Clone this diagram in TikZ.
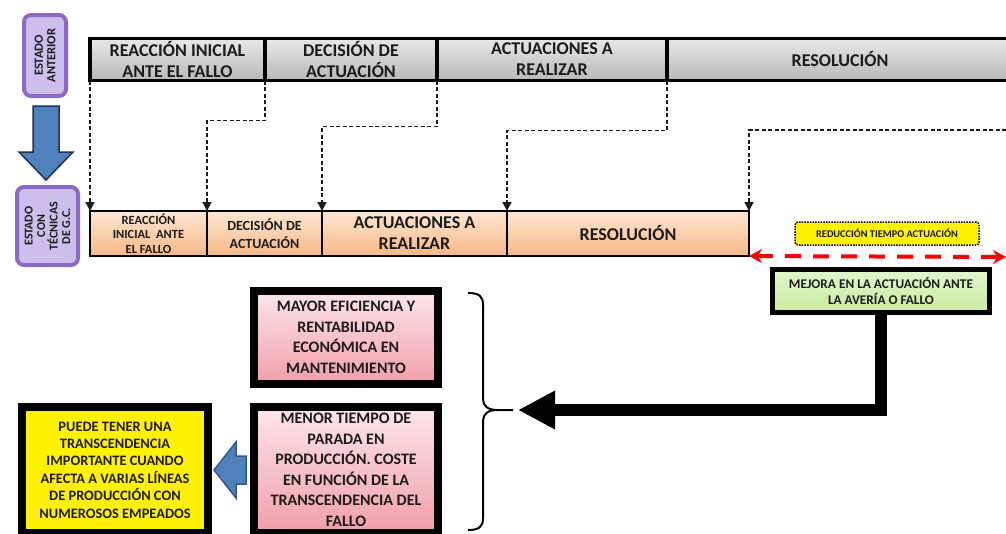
\documentclass[tikz,border=0pt]{standalone}
\usepackage{fontspec}
\setmainfont{Carlito}
\usetikzlibrary{arrows.meta,positioning}
\definecolor{ink}{RGB}{28,28,28}
\definecolor{barHi}{RGB}{232,232,232}
\definecolor{barLo}{RGB}{184,184,184}
\definecolor{peachHi}{RGB}{253,230,210}
\definecolor{peachLo}{RGB}{247,184,134}
\definecolor{pinkHi}{RGB}{252,230,234}
\definecolor{pinkLo}{RGB}{241,158,170}
\definecolor{gainHi}{RGB}{228,245,204}
\definecolor{gainLo}{RGB}{200,234,160}
\definecolor{stateFill}{RGB}{205,190,235}
\definecolor{stateLine}{RGB}{140,105,196}
\definecolor{arrowBlue}{RGB}{79,129,189}
\definecolor{arrowEdge}{RGB}{30,50,80}

\begin{document}
\begin{tikzpicture}[x=1pt,y=-1pt,
  topcell/.style={draw=black, line width=3.5pt, outer sep=0pt, inner sep=0pt,
    top color=barHi, bottom color=barLo, minimum height=42pt, align=center,
    text=ink, font=\bfseries\fontsize{18}{21}\selectfont},
  botcell/.style={draw=black, line width=2.5pt, outer sep=0pt, inner sep=0pt,
    top color=peachHi, bottom color=peachLo, minimum height=45pt, align=center,
    text=ink},
  state/.style={draw=stateLine, line width=4pt, fill=stateFill, rounded corners=7pt,
    rotate=90, inner sep=0pt, align=center, text=ink,
    font=\bfseries\fontsize{12.5}{12.5}\selectfont},
  panel/.style={draw=black, line width=8pt, inner sep=0pt, align=center, text=ink,
    font=\bfseries\fontsize{16}{20.5}\selectfont},
  link/.style={draw=ink, line width=1.6pt, dash pattern=on 4pt off 2.5pt,
    -{Triangle[length=9pt,width=9pt]}},
  blockarrow/.style={fill=arrowBlue, draw=arrowEdge, line width=1.5pt, line join=miter}]
  \useasboundingbox (0,0) rectangle (1006,533);

  %states on the left
  \node[state, minimum width=81pt, minimum height=42pt] (pre) at (45,55.5) {ESTADO\\ANTERIOR};
  \node[state, minimum width=78pt, minimum height=61pt, font=\bfseries\fontsize{12}{12.5}\selectfont]
    (post) at (47.5,226) {ESTADO\\CON\\TÉCNICAS\\DE G.C.};
  \filldraw[blockarrow] (33,106) -- (59,106) -- (59,152) -- (73,152) -- (46,180)
    -- (19,152) -- (33,152) -- cycle;

  %phases before
  \node[topcell, minimum width=175pt, anchor=north west] (top1) at (90,38.5) {REACCIÓN INICIAL\\ANTE EL FALLO};
  \node[topcell, minimum width=172pt, right=0pt of top1] (top2) {DECISIÓN DE\\ACTUACIÓN};
  \node[topcell, minimum width=230pt, right=0pt of top2] (top3) {ACTUACIONES A\\REALIZAR};
  \node[topcell, minimum width=346pt, right=0pt of top3] (top4) {RESOLUCIÓN};

  %phases after
  \node[botcell, minimum width=117pt, anchor=north west, font=\bfseries\fontsize{12.5}{14.5}\selectfont]
    (bot1) at (90,211) {REACCIÓN\\INICIAL\ \ ANTE\\EL FALLO};
  \node[botcell, minimum width=115pt, right=0pt of bot1, font=\bfseries\fontsize{14}{18}\selectfont]
    (bot2) {DECISIÓN DE\\ACTUACIÓN};
  \node[botcell, minimum width=185pt, right=0pt of bot2, font=\bfseries\fontsize{18}{21}\selectfont]
    (bot3) {ACTUACIONES A\\REALIZAR};
  \node[botcell, minimum width=242pt, right=0pt of bot3, font=\bfseries\fontsize{18}{21}\selectfont]
    (bot4) {RESOLUCIÓN};

  %dashed links
  \draw[link] (top1.south west) -- (bot1.north west);
  \draw[link] (top1.south east) -- ++(0,40) -| (bot2.north west);
  \draw[link] (top2.south east) -- ++(0,46) -| (bot3.north west);
  \draw[link] (top3.south east) -- ++(0,50) -| (bot4.north west);
  \coordinate (edge) at (1006,130);
  \draw[link] (edge) -| (bot4.north east);

  %time saved
  \node[draw=black, line width=1.5pt, dash pattern=on 1.5pt off 1.2pt, fill=yellow,
    rounded corners=3pt, minimum width=184pt, minimum height=23pt, inner sep=0pt,
    text=ink, font=\bfseries\fontsize{10.3}{12}\selectfont] (cut) at (887,233.5)
    {REDUCCIÓN TIEMPO ACTUACIÓN};
  \coordinate (gapEnd) at (1006,257);
  \draw[red, line width=4pt, dash pattern=on 16pt off 12pt,
    {Stealth[length=13pt,width=14pt]}-{Stealth[length=13pt,width=14pt]}] (bot4.south east) -- (gapEnd);

  \node[draw=black, line width=5pt, top color=gainHi, bottom color=gainLo,
    minimum width=217pt, minimum height=43pt, inner sep=0pt, align=center, text=ink,
    font=\bfseries\fontsize{13.3}{16.5}\selectfont] (gain) at (881,291)
    {MEJORA EN LA ACTUACIÓN ANTE\\LA AVERÍA O FALLO};

  %consequences
  \node[panel, top color=pinkHi, bottom color=pinkLo, minimum width=184pt, minimum height=93pt]
    (eff) at (346,337.5) {MAYOR EFICIENCIA Y\\RENTABILIDAD\\ECONÓMICA EN\\MANTENIMIENTO};
  \node[panel, top color=pinkHi, bottom color=pinkLo, minimum width=184pt, minimum height=126pt]
    (stop) at (346,470) {MENOR TIEMPO DE\\PARADA EN\\PRODUCCIÓN. COSTE\\EN FUNCIÓN DE LA\\TRANSCENDENCIA DEL\\FALLO};
  \node[panel, fill=yellow, minimum width=186pt, minimum height=126pt,
    font=\bfseries\fontsize{14.4}{17.4}\selectfont] (res) at (115,470)
    {PUEDE TENER UNA\\TRANSCENDENCIA\\IMPORTANTE CUANDO\\AFECTA A VARIAS LÍNEAS\\DE PRODUCCIÓN CON\\NUMEROSOS EMPEADOS};
  \filldraw[blockarrow, draw=arrowBlue!70!black] ([xshift=-4pt]stop.west) ++(0,-14) -- ++(-10,0) -- ++(0,-14)
    -- ++(-22,28) -- ++(22,28) -- ++(0,-14) -- ++(10,0) -- cycle;

  %brace and main arrow
  \draw[line width=2pt] (468,293) .. controls (479,293) and (483,296) .. (483,305) -- (483,399)
    .. controls (483,406) and (488,410) .. (497,410) -- (513,410);
  \draw[line width=2pt] (497,410) .. controls (488,410) and (483,414) .. (483,421) -- (483,518)
    .. controls (483,527) and (479,530) .. (468,530);
  \coordinate (tip) at (518,410);
  \draw[line width=12pt, -{Triangle[length=37pt,width=36pt]}] (gain.south) |- (tip);
\end{tikzpicture}
\end{document}
